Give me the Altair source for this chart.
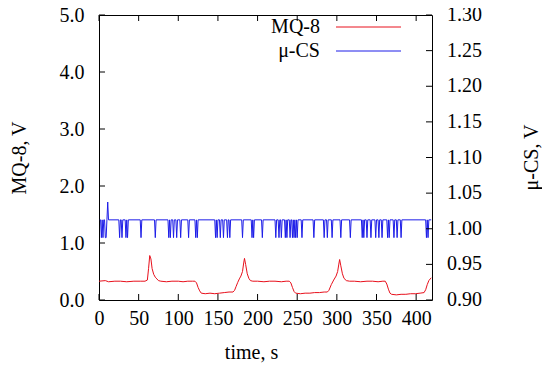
import altair as alt
import pandas as pd

# ---------------- data ----------------
# MQ-8 sensor output (V) : (time s, value)
mq8_points = [
    (0, 0.33), (8, 0.34), (12, 0.32), (20, 0.33), (27, 0.33), (35, 0.32), (44, 0.33),
    (52, 0.33), (58, 0.33), (61, 0.35), (62.5, 0.55), (64, 0.78), (65.5, 0.72), (67, 0.55),
    (69, 0.45), (71, 0.40), (73, 0.37), (75, 0.34), (78, 0.33), (85, 0.32), (92, 0.33),
    (100, 0.33), (106, 0.32), (112, 0.33), (118, 0.33), (121, 0.33), (123, 0.30), (125, 0.22),
    (127, 0.16), (129, 0.12), (134, 0.11), (140, 0.12), (146, 0.11), (152, 0.12), (158, 0.13),
    (164, 0.14), (169, 0.14), (171, 0.17), (173, 0.24), (175, 0.31), (177, 0.37), (179, 0.42),
    (181, 0.50), (182.5, 0.65), (183.5, 0.73), (185, 0.62), (187, 0.46), (189, 0.38), (191, 0.34),
    (194, 0.33), (200, 0.33), (208, 0.32), (215, 0.33), (222, 0.33), (230, 0.32), (236, 0.33),
    (240, 0.33), (242, 0.30), (244, 0.22), (246, 0.15), (248, 0.12), (254, 0.11), (260, 0.12),
    (266, 0.12), (272, 0.13), (278, 0.13), (284, 0.14), (288, 0.14), (290, 0.17), (293, 0.27),
    (296, 0.35), (299, 0.42), (301, 0.50), (302.5, 0.63), (303.5, 0.71), (305, 0.60), (307, 0.46),
    (309, 0.38), (312, 0.34), (316, 0.33), (322, 0.33), (330, 0.32), (338, 0.33), (345, 0.33),
    (352, 0.32), (358, 0.33), (361, 0.33), (363, 0.28), (365, 0.19), (367, 0.12), (369, 0.10),
    (375, 0.09), (381, 0.10), (387, 0.10), (393, 0.11), (399, 0.11), (405, 0.12), (410, 0.13),
    (412, 0.18), (414, 0.27), (416, 0.34), (419, 0.39),
]

# u-CS sensor output (V): sampled once per second, mostly at a high level with dips
cs_start, cs_end = 1, 419
cs_high, cs_low, cs_spike = 1.0125, 0.9875, 1.0375
cs_spike_times = [11]
cs_dip_times = [3, 5, 8, 9, 26, 29, 34, 36, 53, 71, 88, 90, 94, 98, 103, 113, 122, 124,
                147, 149, 153, 157, 162, 165, 181, 193, 195, 206, 223, 227, 230, 235, 237,
                241, 244, 246, 248, 250, 256, 271, 284, 288, 294, 305, 317, 332, 334, 338,
                343, 349, 353, 357, 364, 366, 372, 376, 381, 413, 415]

x_tick_values = [0, 50, 100, 150, 200, 250, 300, 350, 400]
left_tick_values = [0, 1, 2, 3, 4, 5]
right_tick_values = [0.90, 0.95, 1.00, 1.05, 1.10, 1.15, 1.20, 1.25, 1.30]

# left axis (MQ-8) 0..5 V spans the same height as right axis (u-CS) 0.90..1.30 V
left_range = [0, 5]
right_range = [0.90, 1.30]

series_names = ["MQ-8", "\u03bc-CS"]
series_colors = ["#e8101c", "#1c1ce8"]
right_title = "\u03bc-CS, V"

# ---------------- tables ----------------
mq8_df = pd.DataFrame(mq8_points, columns=["t", "v"])
full_t = list(range(cs_start, cs_end + 1))
full_v = [cs_spike if t in cs_spike_times else (cs_low if t in cs_dip_times else cs_high) for t in full_t]
# keep only the samples where the level changes (same drawn line, fewer vertices)
keep = [i for i in range(len(full_t))
        if i == 0 or i == len(full_t) - 1 or full_v[i] != full_v[i - 1] or full_v[i] != full_v[i + 1]]
cs_df = pd.DataFrame({"t": [full_t[i] for i in keep], "raw": [full_v[i] for i in keep]})

xt_df = pd.DataFrame({"t": x_tick_values})
lt_df = pd.DataFrame({"v": left_tick_values})
rt_df = pd.DataFrame({"raw": right_tick_values})
one_df = pd.DataFrame({"k": [0]})

# map right-axis volts onto the left-axis scale
to_left = "({l0} + (datum.raw - {r0}) * ({l1} - {l0}) / ({r1} - {r0}))".format(
    l0=left_range[0], l1=left_range[1], r0=right_range[0], r1=right_range[1])

# ---------------- layout ----------------
W, H = 333, 285
TICK = 6
FONT = "Liberation Serif"
FS = 20

xscale = alt.Scale(domain=[0, 420], nice=False, zero=False)
lscale = alt.Scale(domain=left_range, nice=False, zero=False)

x_axis = alt.Axis(values=x_tick_values, format="d", title="time, s", ticks=False,
                  domain=False, grid=False, labelPadding=8, labelFlush=False,
                  labelFont=FONT, titleFont=FONT, labelFontSize=FS, titleFontSize=FS,
                  titleX=152, titleY=58, titleBaseline="alphabetic")
y_axis = alt.Axis(orient="left", values=left_tick_values, format=".1f", title="MQ-8, V",
                  ticks=False, domain=False, grid=False, labelPadding=15,
                  labelFont=FONT, titleFont=FONT, labelFontSize=FS, titleFontSize=FS,
                  labelFlush=False, titleX=-80, titleY=H / 2, titleAngle=270,
                  titleBaseline="middle", titleAlign="center")

X = alt.X("t:Q", scale=xscale, axis=x_axis)
Y = alt.Y("v:Q", scale=lscale, axis=y_axis)

red = alt.Chart(mq8_df).mark_line(color=series_colors[0], strokeWidth=1).encode(x=X, y=Y)

blue = alt.Chart(cs_df).transform_calculate(v=to_left).mark_line(
    color=series_colors[1], strokeWidth=1).encode(x=X, y=Y)

left_ticks = alt.Chart(lt_df).mark_rule(color="black", strokeWidth=1).encode(
    y=Y, x=alt.value(0), x2=alt.value(TICK))
right_ticks = alt.Chart(rt_df).transform_calculate(v=to_left).mark_rule(
    color="black", strokeWidth=1).encode(y=Y, x=alt.value(W - TICK), x2=alt.value(W))
right_labels = alt.Chart(rt_df).transform_calculate(v=to_left).mark_text(
    align="left", baseline="middle", font=FONT, fontSize=FS, color="black").encode(
    y=Y, x=alt.value(W + 15), text=alt.Text("raw:Q", format=".2f"))
right_title_layer = alt.Chart(one_df).mark_text(
    align="center", baseline="middle", angle=270, font=FONT, fontSize=FS, color="black").encode(
    x=alt.value(W + 100), y=alt.value(H / 2), text=alt.value(right_title))
bottom_ticks = alt.Chart(xt_df).mark_rule(color="black", strokeWidth=1).encode(
    x=X, y=alt.value(H), y2=alt.value(H - TICK))
top_ticks = alt.Chart(xt_df).mark_rule(color="black", strokeWidth=1).encode(
    x=X, y=alt.value(0), y2=alt.value(TICK))

legend_layers = []
for i, (name, col) in enumerate(zip(series_names, series_colors)):
    ly = 12 + 24 * i
    legend_layers.append(
        alt.Chart(one_df).mark_text(align="right", baseline="middle", font=FONT,
                                    fontSize=FS, color="black").encode(
            x=alt.value(221), y=alt.value(ly), text=alt.value(name)))
    legend_layers.append(
        alt.Chart(one_df).mark_rule(color=col, strokeWidth=1).encode(
            x=alt.value(237), x2=alt.value(302), y=alt.value(ly)))

chart = alt.layer(
    red, blue, left_ticks, right_ticks, bottom_ticks, top_ticks,
    right_labels, right_title_layer, *legend_layers
).properties(
    width=W, height=H,
    autosize=alt.AutoSizeParams(type="none"),
    padding={"left": 91, "top": 7, "right": 110, "bottom": 63},
).configure(
    font=FONT
).configure_view(
    stroke="black", strokeWidth=1
).configure_axis(
    labelColor="black", titleColor="black", titleFontWeight="normal",
)

chart.save("out.html", embed_options={"renderer": "svg", "actions": False})
